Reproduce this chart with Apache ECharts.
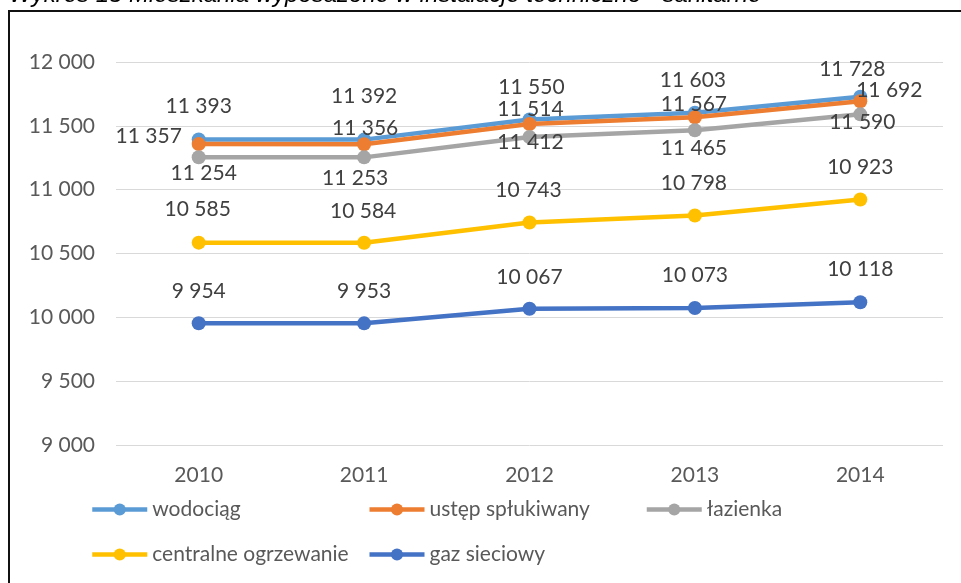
<!DOCTYPE html>
<html>
<head>
<meta charset="utf-8">
<script src="https://cdn.jsdelivr.net/npm/echarts@6/dist/echarts.min.js"></script>
<style>
html,body{margin:0;padding:0;background:#fff;}
#chart{width:961px;height:583px;}
</style>
</head>
<body>
<div id="chart"></div>
<script>
const categories = ['2010', '2011', '2012', '2013', '2014'];
const seriesNames = ['wodociąg', 'ustęp spłukiwany', 'łazienka', 'centralne ogrzewanie', 'gaz sieciowy'];
const wodociag = [11393, 11392, 11550, 11603, 11728];
const ustep = [11357, 11356, 11514, 11567, 11692];
const lazienka = [11254, 11253, 11412, 11465, 11590];
const centralne = [10585, 10584, 10743, 10798, 10923];
const gaz = [9954, 9953, 10067, 10073, 10118];
const yMin = 9000, yMax = 12000, yStep = 500;
const titleText = 'Wykres 15 Mieszkania wyposażone w instalacje techniczno - sanitarne';

const colors = ['#5B9BD5', '#ED7D31', '#A5A5A5', '#FFC000', '#4472C4'];
// label offsets (style only)
const labelOffsets = [
  [[0,-33],[0,-43],[2,-32],[-2,-32],[-8,-27]],
  [[-50,-8],[1,-16],[1,-15],[-1,-13],[29,-11]],
  [[5,16],[-9,21],[1,5],[-1,18],[2,8]],
  [[-1,-33],[-1,-32],[-1,-32],[-1,-32],[0,-32]],
  [[0,-32],[0,-32],[0,-32],[0,-33],[0,-33]]
];
const allValues = [wodociag, ustep, lazienka, centralne, gaz];

const fmt = v => String(v).replace(/\B(?=(\d{3})+(?!\d))/g, ' ');
const FONT = 'Lato';

const chart = echarts.init(document.getElementById('chart'), null, {renderer: 'canvas'});

const series = allValues.map((vals, si) => ({
  name: seriesNames[si],
  type: 'line',
  data: vals.map((v, i) => ({
    value: v,
    label: { offset: labelOffsets[si][i] }
  })),
  symbol: 'circle',
  symbolSize: 14,
  lineStyle: { width: 4.5, color: colors[si] },
  itemStyle: { color: colors[si] },
  label: {
    show: true,
    position: 'inside',
    formatter: p => fmt(p.value),
    color: '#404040',
    fontFamily: FONT,
    fontSize: 21
  },
  z: 2 + si
}));

chart.setOption({
  backgroundColor: '#ffffff',
  animation: false,
  color: colors,
  title: {
    text: titleText,
    left: 4,
    top: -22,
    textStyle: { fontFamily: 'Liberation Sans', fontStyle: 'italic', fontWeight: 'normal', fontSize: 24, color: '#000' }
  },
  graphic: [{
    type: 'rect',
    shape: { x: 9, y: 11, width: 1200, height: 1200 },
    style: { fill: '#fff', stroke: '#111', lineWidth: 2 },
    z: -10,
    silent: true
  }],
  grid: { left: 116, right: 18, top: 62, bottom: 138, containLabel: false },
  xAxis: {
    type: 'category',
    data: categories,
    boundaryGap: true,
    axisLine: { show: false },
    axisTick: { show: false },
    axisLabel: { color: '#595959', fontFamily: FONT, fontSize: 21, margin: 20 }
  },
  yAxis: {
    type: 'value',
    min: yMin, max: yMax, interval: yStep,
    axisLine: { show: false },
    axisTick: { show: false },
    splitLine: { lineStyle: { color: '#D9D9D9', width: 1 } },
    axisLabel: { color: '#595959', fontFamily: FONT, fontSize: 21, margin: 21, formatter: v => fmt(v) }
  },
  legend: {
    left: 85,
    top: 482,
    width: 850,
    itemGap: 0,
    itemWidth: 55,
    itemHeight: 15,
    lineStyle: { width: 4.5 },
    textStyle: { color: '#595959', fontFamily: FONT, fontSize: 21, width: 215, height: 45, lineHeight: 45 },
    data: seriesNames
  },
  series: series
});
</script>
</body>
</html>
